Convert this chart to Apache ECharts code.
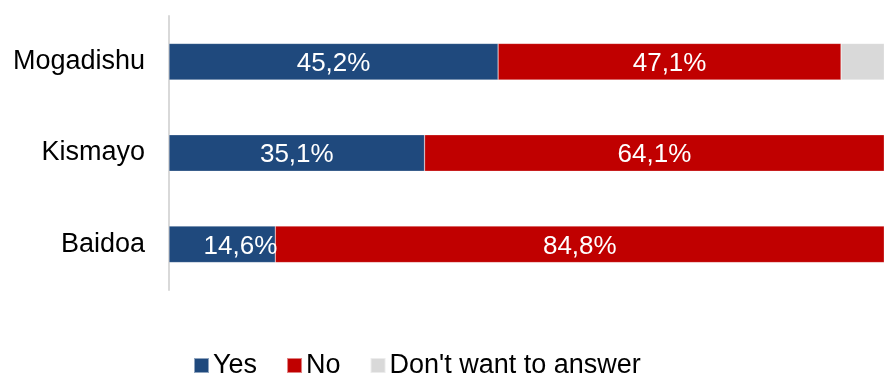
<!DOCTYPE html>
<html>
<head>
<meta charset="utf-8">
<script src="https://cdn.jsdelivr.net/npm/echarts@6/dist/echarts.min.js"></script>
<style>
  html, body { margin: 0; padding: 0; background: #fff; }
  #chart { width: 884px; height: 376px; }
</style>
</head>
<body>
<div id="chart"></div>
<script>
// Share of answers per city (percent)
const cities = ['Mogadishu', 'Kismayo', 'Baidoa'];
const yesValues = [45.2, 35.1, 14.6];
const noValues = [47.1, 64.1, 84.8];
const dontWantValues = [7.7, 0.8, 0.6];
const seriesNames = ['Yes', 'No', "Don't want to answer"];

const FONT = 'Liberation Sans, Arial, Helvetica, sans-serif';

function fmt(v) {
  return v.toFixed(1).replace('.', ',') + '%';
}

const labelStyle = {
  show: true,
  position: 'inside',
  offset: [0, 2],
  color: '#fff',
  fontSize: 26,
  fontFamily: FONT,
  formatter: p => fmt(p.value)
};

// Narrow segments get their label pushed against the right edge
function withLabels(values) {
  return values.map(v => v < 20
    ? { value: v, label: { position: 'insideRight', distance: -2 } }
    : v);
}

const chart = echarts.init(document.getElementById('chart'), null, { renderer: 'canvas' });
chart.setOption({
  animation: false,
  backgroundColor: '#fff',
  grid: { left: 169, right: 0, top: 16, bottom: 86, containLabel: false },
  xAxis: {
    // the visible plot stops a little short of 100 %
    type: 'value', min: 0, max: 98.2,
    show: false
  },
  yAxis: {
    type: 'category',
    data: cities,
    inverse: true,
    axisLine: { show: true, lineStyle: { color: '#d9d9d9', width: 2 } },
    axisTick: { show: false },
    axisLabel: { color: '#000', fontSize: 27, fontFamily: FONT, margin: 24, padding: [8, 0, 0, 0] }
  },
  legend: {
    top: 352,
    left: 193,
    padding: 0,
    itemWidth: 15,
    itemHeight: 15,
    itemGap: 29,
    icon: 'rect',
    textStyle: { color: '#000', fontSize: 27, fontFamily: FONT, padding: [0, 0, 0, -1] },
    data: seriesNames
  },
  series: [
    {
      name: seriesNames[0], type: 'bar', stack: 'total', barWidth: '40%',
      itemStyle: { color: '#1f497d', borderColor: 'rgba(255,255,255,0.5)', borderWidth: 0.5 },
      label: labelStyle,
      data: withLabels(yesValues)
    },
    {
      name: seriesNames[1], type: 'bar', stack: 'total',
      itemStyle: { color: '#c00000', borderColor: 'rgba(255,255,255,0.5)', borderWidth: 0.5 },
      label: labelStyle,
      data: noValues
    },
    {
      name: seriesNames[2], type: 'bar', stack: 'total',
      itemStyle: { color: '#d9d9d9', borderColor: 'rgba(255,255,255,0.5)', borderWidth: 0.5 },
      label: { show: false },
      data: dontWantValues
    }
  ]
});
</script>
</body>
</html>
